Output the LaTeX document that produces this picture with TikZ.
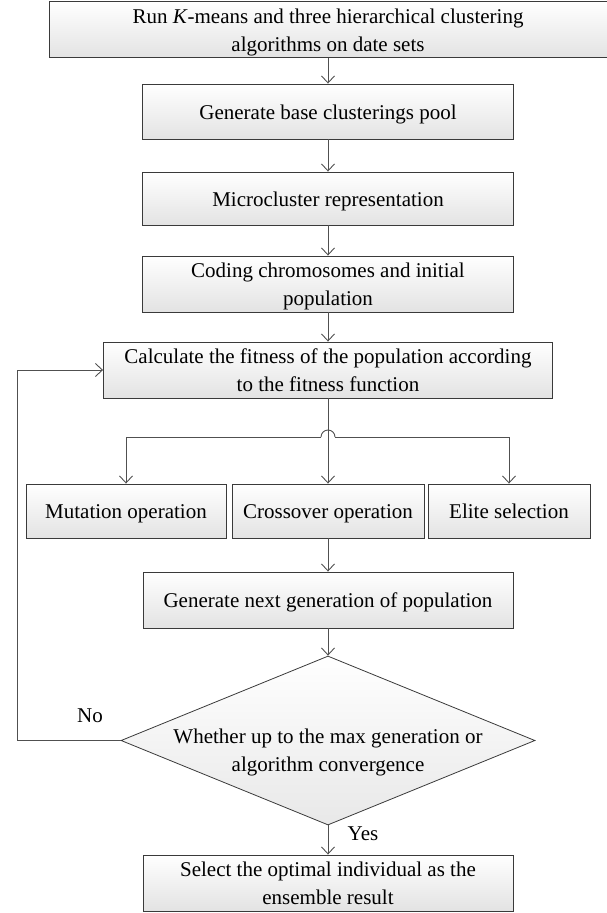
\documentclass[tikz,border=0pt]{standalone}
\usepackage{fontspec}
\setmainfont{Liberation Serif}
\usetikzlibrary{arrows.meta,shapes.geometric}
\definecolor{edge}{HTML}{3A3A3A}
\definecolor{conn}{HTML}{505050}
\newcommand\ms{\rule[-6.5pt]{0pt}{28pt}}
\begin{document}
\begin{tikzpicture}[x=1pt,y=-1pt,
  box/.style={draw=edge,line width=0.9pt,top color=white,bottom color=black!11,
    inner sep=0pt,align=center,font=\fontsize{21}{28}\selectfont},
  dia/.style={draw=edge,line width=0.8pt,diamond,top color=white,bottom color=black!9,
    inner sep=0pt,minimum width=414pt,minimum height=169pt},
  txt/.style={align=center,inner sep=0pt,font=\fontsize{21}{28}\selectfont},
  conline/.style={draw=conn,line width=0.9pt},
  arr/.style={conline,-{Straight Barb[length=7pt,width=13pt]}}]
\useasboundingbox (0,0) rectangle (607,913);

\node[box,minimum width=558pt,minimum height=55pt] (run) at (328,29.5)
  {\ms Run \textit{K}-means and three hierarchical clustering\\\ms algorithms on date sets};
\node[box,minimum width=371pt,minimum height=55pt] (pool) at (328,111.5)
  {\ms Generate base clusterings pool};
\node[box,minimum width=371pt,minimum height=53pt] (micro) at (328,198.5)
  {\ms Microcluster representation};
\node[box,minimum width=371pt,minimum height=54pt] (code) at (328,284)
  {\ms Coding chromosomes and initial\\\ms population};
\node[box,minimum width=449pt,minimum height=54pt] (calc) at (328,370)
  {\ms Calculate the fitness of the population according\\\ms to the fitness function};
\node[box,minimum width=200pt,minimum height=54pt] (mut) at (126,511)
  {\ms Mutation operation};
\node[box,minimum width=192pt,minimum height=54pt] (cro) at (328,511)
  {\ms Crossover operation};
\node[box,minimum width=162pt,minimum height=54pt] (eli) at (509,511)
  {\ms Elite selection};
\node[box,minimum width=370pt,minimum height=56pt] (next) at (328,600)
  {\ms Generate next generation of population};
\node[dia] (cond) at (328,740.5) {};
\node[txt] (condtxt) at (328,750)
  {\ms Whether up to the max generation or\\\ms algorithm convergence};
\node[box,minimum width=370pt,minimum height=54pt] (sel) at (328,883)
  {\ms Select the optimal individual as the\\\ms ensemble result};

\node[txt] (no) at (90,716) {No};
\node[txt] (yes) at (363,834) {Yes};

\draw[arr] (run.south) -- (pool.north);
\draw[arr] (pool.south) -- (micro.north);
\draw[arr] (micro.south) -- (code.north);
\draw[arr] (code.south) -- (calc.north);
\draw[arr] (calc.south) -- (cro.north);
\draw[arr] (cro.south) -- (next.north);
\draw[arr] (next.south) -- (cond.north);
\draw[arr] (cond.south) -- (sel.north);

\coordinate (hopL) at (321,437);
\coordinate (hopR) at (335,437);
\draw[conline] (hopL) arc[start angle=180,end angle=360,radius=7];
\draw[arr] (hopL) -| (mut.north);
\draw[arr] (hopR) -| (eli.north);

\coordinate (back) at (17,740.5);
\draw[arr] (cond.west) -- (back) |- (calc.west);
\end{tikzpicture}
\end{document}
